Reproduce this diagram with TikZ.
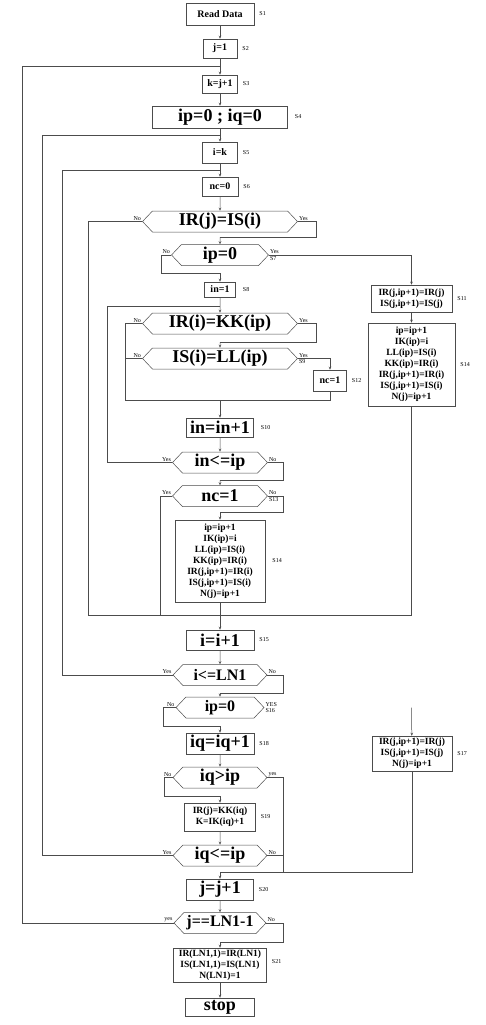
\documentclass[tikz,border=0pt]{standalone}
\usepackage{fontspec}
\setmainfont{Liberation Serif}
\usetikzlibrary{positioning,shapes.symbols,arrows.meta}
\newcommand{\bigfnt}{\bfseries\fontsize{18}{20}\selectfont}
\newcommand{\midfnt}{\bfseries\fontsize{16}{18}\selectfont}
\newcommand{\smlfnt}{\bfseries\fontsize{10}{12}\selectfont}
\newcommand{\lstfnt}{\bfseries\fontsize{9.5}{11}\selectfont}
\tikzset{
  box/.style={draw=black!70, line width=0.5pt, inner sep=1pt},
  dec/.style={signal, signal to=east and west, signal pointer angle=93,
    draw=black!70, line width=0.5pt,
    minimum height=21, inner sep=0pt, font=\bigfnt},
  lbl/.style={font=\fontsize{6}{7}\selectfont, inner sep=1pt},
  line/.style={draw=black!70, line width=0.5pt},
  arr/.style={line, -{Stealth[length=3pt,width=2.5pt]}},
}
\begin{document}
\begin{tikzpicture}[x=1pt,y=-1pt]
\useasboundingbox (0,0) rectangle (485,1025);

% main column
\node[box, minimum width=68, minimum height=22, font=\smlfnt] (read) at (220,14) {Read Data};
\node[box, minimum width=34, minimum height=19, font=\smlfnt] (j1) at (220,48.5) {j=1};
\node[box, minimum width=35, minimum height=18, font=\smlfnt] (k) at (220,84) {k=j+1};
\node[box, minimum width=135, minimum height=22, font=\bigfnt] (ipq) at (220,117) {ip=0 ; iq=0};
\node[box, minimum width=35, minimum height=21, font=\smlfnt] (ik) at (220,152.5) {i=k};
\node[box, minimum width=36, minimum height=19, font=\smlfnt] (nc0) at (220,186.5) {nc=0};
\node[dec, minimum width=155] (d1) at (220,221.5) {IR(j)=IS(i)};
\node[dec, minimum width=97] (d2) at (220,255) {ip=0};
\node[box, minimum width=31, minimum height=15, font=\smlfnt] (in1) at (220,289.5) {in=1};
\node[dec, minimum width=155] (d3) at (220,323.5) {IR(i)=KK(ip)};
\node[dec, minimum width=155] (d4) at (220,358.5) {IS(i)=LL(ip)};
\node[box, minimum width=33, minimum height=21, font=\smlfnt] (nc1) at (330,380.5) {nc=1};
\node[box, minimum width=67, minimum height=19, font=\bigfnt] (inc) at (220,427.5) {in=in+1};
\node[dec, minimum width=95] (d5) at (220,462.5) {in<=ip};
\node[dec, minimum width=95] (d6) at (220,496) {nc=1};
\node[box, minimum width=90, minimum height=82, font=\lstfnt, align=center] (s14m) at (220,561)
  {ip=ip+1\\IK(ip)=i\\LL(ip)=IS(i)\\KK(ip)=IR(i)\\IR(j,ip+1)=IR(i)\\IS(j,ip+1)=IS(i)\\N(j)=ip+1};

% right column
\node[box, minimum width=81, minimum height=27, font=\lstfnt, align=center] (s11) at (411.5,298.5)
  {IR(j,ip+1)=IR(j)\\IS(j,ip+1)=IS(j)};
\node[box, minimum width=87, minimum height=83, font=\lstfnt, align=center] (s14r) at (411.5,364.5)
  {ip=ip+1\\IK(ip)=i\\LL(ip)=IS(i)\\KK(ip)=IR(i)\\IR(j,ip+1)=IR(i)\\IS(j,ip+1)=IS(i)\\N(j)=ip+1};

% lower part
\node[box, minimum width=68, minimum height=20, font=\bigfnt] (ii) at (220,640) {i=i+1};
\node[dec, minimum width=94, font=\midfnt] (d7) at (220,675) {i<=LN1};
\node[dec, minimum width=88, font=\midfnt] (d8) at (220,707.5) {ip=0};
\node[box, minimum width=68, minimum height=21, font=\bigfnt] (iq) at (220,743.5) {iq=iq+1};
\node[box, minimum width=80, minimum height=35, font=\lstfnt, align=center] (s17) at (412,753.5)
  {IR(j,ip+1)=IR(j)\\IS(j,ip+1)=IS(j)\\N(j)=ip+1};
\node[dec, minimum width=94] (d9) at (220,777.5) {iq>ip};
\node[box, minimum width=71, minimum height=28, font=\lstfnt, align=center] (s19) at (220,817)
  {IR(j)=KK(iq)\\K=IK(iq)+1};
\node[dec, minimum width=94] (d10) at (220,855.5) {iq<=ip};
\node[box, minimum width=67, minimum height=21, font=\bigfnt] (jj) at (220,889.5) {j=j+1};
\node[dec, minimum width=92, font=\midfnt] (d11) at (220,923) {j==LN1-1};
\node[box, minimum width=93, minimum height=34, font=\lstfnt, align=center] (s21) at (220,965)
  {IR(LN1,1)=IR(LN1)\\IS(LN1,1)=IS(LN1)\\N(LN1)=1};
\node[box, minimum width=69, minimum height=18, font=\bigfnt] (stop) at (220,1007) {stop};

% step labels
\node[lbl, right=4pt of read] {S1};
\node[lbl, right=4pt of j1] {S2};
\node[lbl, right=4pt of k] {S3};
\node[lbl, right=6pt of ipq] {S4};
\node[lbl, right=4pt of ik] {S5};
\node[lbl, right=4pt of nc0] {S6};
\node[lbl, right=6pt of in1] {S8};
\node[lbl, right=4pt of nc1] {S12};
\node[lbl, right=6pt of inc] {S10};
\node[lbl, right=6pt of s14m] {S14};
\node[lbl, right=4pt of s11] {S11};
\node[lbl, right=4pt of s14r] {S14};
\node[lbl, right=4pt of ii] {S15};
\node[lbl, right=4pt of iq] {S18};
\node[lbl, right=4pt of s17] {S17};
\node[lbl, right=4pt of s19] {S19};
\node[lbl, right=4pt of jj] {S20};
\node[lbl, right=4pt of s21, yshift=3pt] {S21};

% decision labels
\node[lbl, above left=0pt of d1.west] {No};
\node[lbl, above right=0pt of d1.east] {Yes};
\node[lbl, above left=0pt of d2.west] {No};
\node[lbl, above right=0pt of d2.east] {Yes};
\node[lbl, below right=0pt of d2.east] {S7};
\node[lbl, above left=0pt of d3.west] {No};
\node[lbl, above right=0pt of d3.east] {Yes};
\node[lbl, above left=0pt of d4.west] {No};
\node[lbl, above right=0pt of d4.east] {Yes};
\node[lbl, below right=0pt of d4.east] {S9};
\node[lbl, above left=0pt of d5.west] {Yes};
\node[lbl, above right=0pt of d5.east] {No};
\node[lbl, above left=0pt of d6.west] {Yes};
\node[lbl, above right=0pt of d6.east] {No};
\node[lbl, below right=0pt of d6.east] {S13};
\node[lbl, above left=0pt of d7.west] {Yes};
\node[lbl, above right=0pt of d7.east] {No};
\node[lbl, above left=0pt of d8.west] {No};
\node[lbl, above right=0pt of d8.east] {YES};
\node[lbl, below right=0pt of d8.east] {S16};
\node[lbl, above left=0pt of d9.west] {No};
\node[lbl, above right=0pt of d9.east] {yes};
\node[lbl, above left=0pt of d10.west] {Yes};
\node[lbl, above right=0pt of d10.east] {No};
\node[lbl, above left=0pt of d11.west] {yes};
\node[lbl, above right=0pt of d11.east] {No};

% junctions
\coordinate (m15) at (220,66);
\coordinate (m14) at (220,135);
\coordinate (m8) at (220,170);
\coordinate (m1) at (220,237);
\coordinate (m2) at (220,273);
\coordinate (m3) at (220,306);
\coordinate (m4) at (220,342);
\coordinate (m5) at (220,400);
\coordinate (m6) at (220,480);
\coordinate (m7) at (220,512);
\coordinate (mg) at (220,615);
\coordinate (m9) at (220,693);
\coordinate (m10) at (220,726);
\coordinate (f1) at (411.5,707.5);
\coordinate (m11) at (220,796);
\coordinate (m13) at (220,872);
\coordinate (m16) at (220,942);

% connectors
\draw[arr] (read) -- (j1);
\draw[arr] (j1) -- (k);
\draw[arr] (k) -- (ipq);
\draw[arr] (ipq) -- (ik);
\draw[arr] (ik) -- (nc0);
\draw[arr] (nc0) -- (d1);
\draw[line] (d1.east) -| ++(18,15.5) -- (m1);
\draw[arr] (m1) -- (d2);
\draw[line] (d1.west) -- (88,221.5) |- (mg);
\draw[arr] (d2.east) -| (s11);
\draw[line] (d2.west) -| ++(-10,18) -- (m2);
\draw[arr] (m2) -- (in1);
\draw[arr] (in1) -- (d3);
\draw[line] (d3.east) -| ++(18,18.5) -- (m4);
\draw[arr] (m4) -- (d4);
\draw[line] (d3.west) -- (125,323.5) |- (m5);
\draw[line] (d4.west) -- (125,358.5);
\draw[arr] (d4.east) -| (nc1);
\draw[line] (nc1) |- (m5);
\draw[arr] (m5) -- (inc);
\draw[arr] (inc) -- (d5);
\draw[line] (d5.west) -- (107,462.5) |- (m3);
\draw[line] (d5.east) -| ++(15,17.5) -- (m6);
\draw[arr] (m6) -- (d6);
\draw[line] (d6.west) -| (160,615);
\draw[line] (d6.east) -| ++(15,16) -- (m7);
\draw[arr] (m7) -- (s14m);
\draw[line] (s14m) -- (mg);
\draw[arr] (s11) -- (s14r);
\draw[line] (s14r) |- (mg);
\draw[arr] (mg) -- (ii);
\draw[arr] (ii) -- (d7);
\draw[line] (d7.west) -- (62,675) |- (m8);
\draw[line] (d7.east) -| ++(16,18) -- (m9);
\draw[arr] (m9) -- (d8);
\draw[line] (d8.west) -| ++(-12,18.5) -- (m10);
\draw[arr] (m10) -- (iq);
\draw[arr] (f1) -- (s17);
\draw[arr] (iq) -- (d9);
\draw[line] (d9.west) -| ++(-8,18.5) -- (m11);
\draw[arr] (m11) -- (s19);
\draw[line] (d9.east) -| (283,872);
\draw[arr] (s19) -- (d10);
\draw[line] (d10.west) -- (42,855.5) |- (m14);
\draw[line] (d10.east) -- (283,855.5);
\draw[line] (s17) |- (m13);
\draw[arr] (m13) -- (jj);
\draw[arr] (jj) -- (d11);
\draw[line] (d11.west) -- (22,923) |- (m15);
\draw[line] (d11.east) -| ++(17,19) -- (m16);
\draw[arr] (m16) -- (s21);
\draw[arr] (s21) -- (stop);
\end{tikzpicture}
\end{document}
